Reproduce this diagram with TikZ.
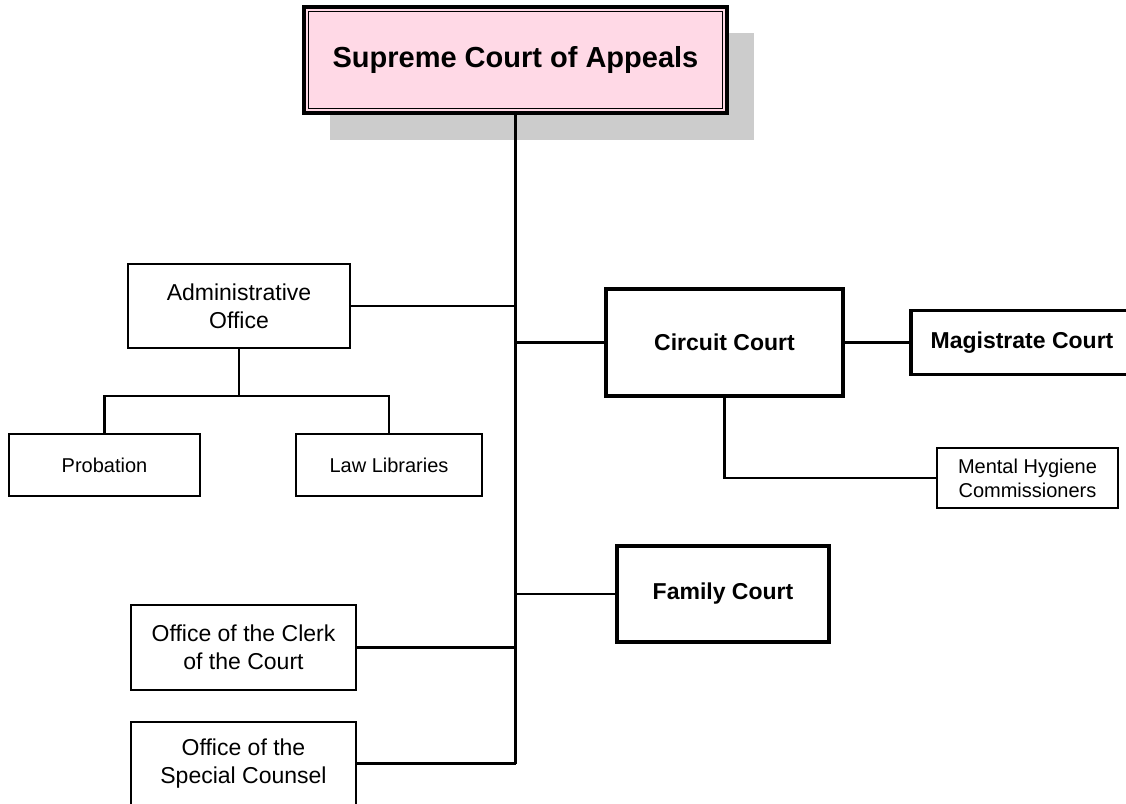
\documentclass[tikz,border=0pt]{standalone}
\usepackage{fontspec}
\setmainfont{Liberation Sans}
\definecolor{suppink}{HTML}{FFD9E6}
\definecolor{shadowgray}{HTML}{CCCCCC}
\begin{document}
\begin{tikzpicture}[x=1pt,y=-1pt,
  thinbox/.style={draw, line width=2pt, fill=white, inner sep=0pt, align=center,
    font=\fontsize{23}{28}\selectfont},
  smallbox/.style={thinbox, font=\fontsize{20}{24}\selectfont},
  thickbox/.style={draw, line width=3.6pt, fill=white, inner sep=0pt, align=center,
    font=\fontsize{23}{28}\selectfont\bfseries},
  conn/.style={line width=2.1pt}]
\useasboundingbox (0,0) rectangle (1126,803);
\clip (0,0) rectangle (1126,803);
\fill[white] (0,0) rectangle (1126,803);
% shadow
\fill[shadowgray] (330,33) rectangle (754,140);
% top node
\node[draw, line width=3.2pt, fill=suppink, minimum width=423pt, minimum height=106pt,
  inner sep=0pt, font=\fontsize{29}{34}\selectfont\bfseries] (sup) at (515.5,60) {Supreme Court of Appeals};
\draw[line width=1.5pt] ([xshift=6pt,yshift=-6pt]sup.north west) rectangle ([xshift=-6pt,yshift=6pt]sup.south east);
% nodes
\node[thinbox, minimum width=222pt, minimum height=84pt] (admin) at (239,306) {Administrative\\Office};
\node[smallbox, minimum width=191pt, minimum height=62pt] (prob) at (104.5,465) {Probation};
\node[smallbox, minimum width=186pt, minimum height=62pt] (law) at (389,465) {Law Libraries};
\node[thickbox, minimum width=237pt, minimum height=107pt] (circuit) at (724.5,342.5) {Circuit Court};
\node[thickbox, minimum width=222pt, minimum height=64pt] (mag) at (1022,342.5) {Magistrate Court};
\node[smallbox, minimum width=181pt, minimum height=60pt] (mental) at (1027.5,478) {Mental Hygiene\\Commissioners};
\node[thickbox, minimum width=212pt, minimum height=96pt] (family) at (723,594) {Family Court};
\node[thinbox, minimum width=225pt, minimum height=85pt] (clerk) at (243.5,647.5) {Office of the Clerk\\of the Court};
\node[thinbox, minimum width=225pt, minimum height=83pt] (special) at (243.5,763.5) {Office of the\\Special Counsel};
\coordinate (abar) at (239,396);
% connectors
\draw[conn] (sup.south) -- (special.east -| sup.south);
\draw[conn] (admin.east) -- (admin.east -| sup.south);
\draw[conn] (circuit.west) -- (circuit.west -| sup.south);
\draw[conn] (family.west) -- (family.west -| sup.south);
\draw[conn] (clerk.east) -- (clerk.east -| sup.south);
\draw[conn] (special.east) -- (special.east -| sup.south);
\draw[conn] (admin.south) -- (abar);
\draw[conn] (prob.north) |- (abar) -| (law.north);
\draw[conn] (circuit.east) -- (mag.west);
\draw[conn] (circuit.south) |- (mental.west);
\end{tikzpicture}
\end{document}
